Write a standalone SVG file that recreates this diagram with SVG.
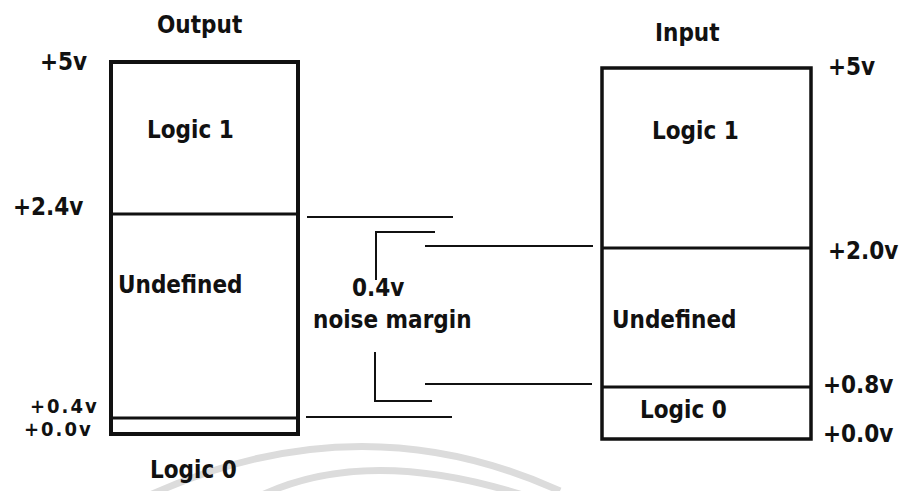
<svg xmlns="http://www.w3.org/2000/svg" width="909" height="491" viewBox="0 0 909 491">
  <style>
    .t { font-family: "DejaVu Sans Condensed", "DejaVu Sans", "Liberation Sans", sans-serif; font-stretch: condensed; font-weight: bold; font-size: 24px; fill: #111; }
    .s { font-size: 20px; letter-spacing: 2px; }
    .box { fill: none; stroke: #111; stroke-width: 4; }
    .div { stroke: #111; stroke-width: 3; fill: none; }
    .con { stroke: #111; stroke-width: 2; fill: none; }
    .wm { stroke: #dcdcdc; stroke-width: 7; fill: none; }
  </style>
  <rect width="909" height="491" fill="#fff"/>
  <g id="watermark">
    <path class="wm" d="M 150 495 Q 360 400 560 491"/>
    <path class="wm" d="M 262 495 Q 380 440 560 508"/>
  </g>
  <g id="output-column">
    <text class="t" x="157" y="33">Output</text>
    <rect class="box" x="111" y="62" width="187" height="372"/>
    <line class="div" x1="111" y1="214" x2="298" y2="214"/>
    <line class="div" x1="111" y1="418" x2="298" y2="418"/>
    <text class="t" x="40" y="70">+5v</text>
    <text class="t" x="147" y="138">Logic 1</text>
    <text class="t" x="13" y="215">+2.4v</text>
    <text class="t" x="118" y="293">Undefined</text>
    <text class="t s" x="30" y="413">+0.4v</text>
    <text class="t s" x="24" y="436">+0.0v</text>
    <text class="t" x="150" y="478">Logic 0</text>
  </g>
  <g id="input-column">
    <text class="t" x="655" y="41">Input</text>
    <rect class="box" x="602" y="68" width="209" height="371" style="stroke-width:3.5"/>
    <line class="div" x1="602" y1="248" x2="811" y2="248"/>
    <line class="div" x1="602" y1="387" x2="811" y2="387"/>
    <text class="t" x="828" y="75">+5v</text>
    <text class="t" x="652" y="139">Logic 1</text>
    <text class="t" x="828" y="259">+2.0v</text>
    <text class="t" x="612" y="328">Undefined</text>
    <text class="t" x="823" y="393">+0.8v</text>
    <text class="t" x="640" y="418">Logic 0</text>
    <text class="t" x="823" y="442">+0.0v</text>
  </g>
  <g id="noise-margin">
    <text class="t" x="352" y="296">0.4v</text>
    <text class="t" x="313" y="328">noise margin</text>
  </g>
  <g id="connectors">
    <line class="con" x1="307" y1="217" x2="453" y2="217"/>
    <polyline class="con" points="376,280 376,232 435,232"/>
    <line class="con" x1="425" y1="246" x2="593" y2="246"/>
    <polyline class="con" points="375,352 375,401 432,401"/>
    <line class="con" x1="425" y1="384" x2="592" y2="384"/>
    <line class="con" x1="306" y1="417" x2="452" y2="417"/>
  </g>
</svg>
